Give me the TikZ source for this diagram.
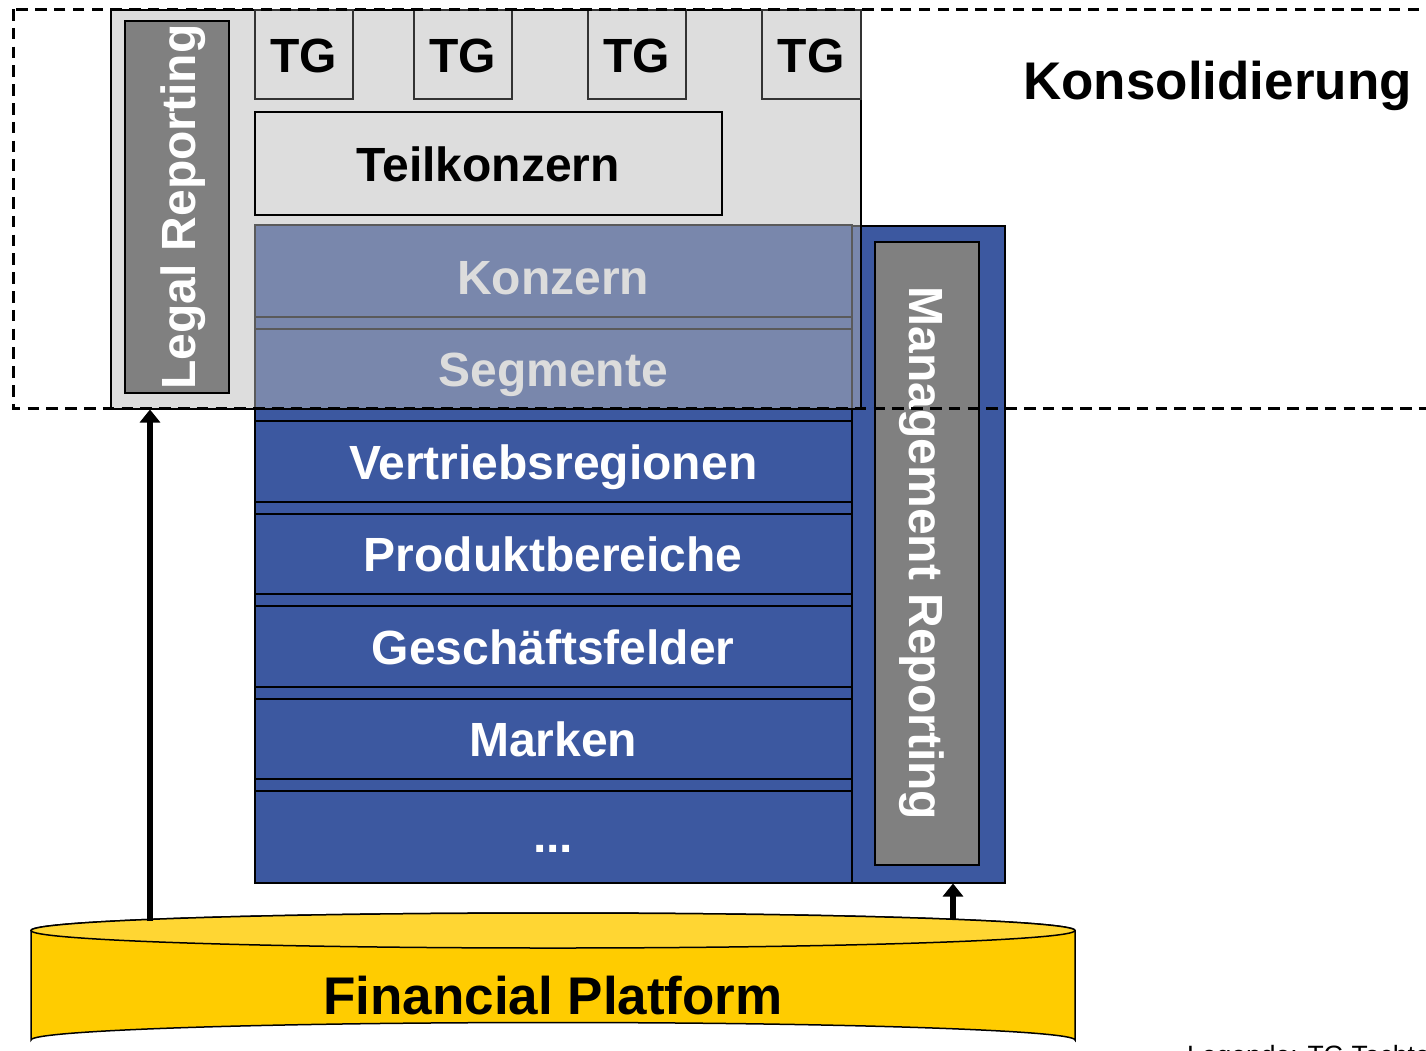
\documentclass[tikz,border=0pt]{standalone}
\usepackage{fontspec}
\setmainfont{Liberation Sans}
\usetikzlibrary{arrows.meta}

\definecolor{panelgray}{HTML}{B9B9B9}
\definecolor{tgline}{HTML}{333333}
\definecolor{rowblue}{HTML}{3C58A0}
\definecolor{bargray}{HTML}{808080}
\definecolor{gold}{HTML}{FFCC00}
\definecolor{goldtop}{HTML}{FFD633}

\newcommand\labelfont{\fontsize{48}{48}\selectfont\bfseries}
\newcommand\titlefont{\fontsize{53}{53}\selectfont\bfseries}
\newcommand\notefont{\fontsize{26.5}{26.5}\selectfont}

\tikzset{
  tgbox/.style={draw=tgline, line width=1.5pt, minimum width=98pt, minimum height=89pt,
    anchor=north west, inner sep=0pt, font=\labelfont, text height=36pt, text depth=0pt},
  layer/.style={draw=black, line width=1.5pt, fill=rowblue, text=white, minimum width=597pt,
    anchor=north west, inner sep=0pt, font=\labelfont, text height=36pt, text depth=0pt},
  bar/.style={draw=black, line width=1.5pt, fill=bargray, text=white, minimum height=104pt,
    inner sep=0pt, font=\labelfont, text height=36pt, text depth=0pt},
  flow/.style={line width=6pt, -{Triangle[width=20pt,length=13pt]}},
}

\begin{document}
\begin{tikzpicture}[x=1pt,y=-1pt]
\useasboundingbox (0,0) rectangle (1426,1050);
\clip (0,0) rectangle (1426,1050);

% management reporting frame behind the layer stack
\node[draw=black, line width=1.5pt, fill=rowblue, minimum width=153pt, minimum height=657pt,
  anchor=north west, inner sep=0pt] (mframe) at (851,225) {};

% layer stack
\node[draw=black, line width=1.5pt, fill=rowblue, minimum width=597pt, minimum height=658pt,
  anchor=north west, inner sep=0pt] (stack) at (254,224) {};
\node[layer, minimum height=92pt] (konzern) at (254,224) {\raisebox{-6pt}{Konzern}};
\node[layer, minimum height=80pt] (segmente) at (254,328) {Segmente};
\node[layer, minimum height=81pt] (vertrieb) at (254,420) {Vertriebsregionen};
\node[layer, minimum height=80pt] (produkt) at (254,513) {Produktbereiche};
\node[layer, minimum height=81pt] (gf) at (254,605) {Geschäftsfelder};
\node[layer, minimum height=80pt] (marken) at (254,698) {Marken};
\node[layer, minimum height=92pt] (more) at (254,790) {\raisebox{2pt}{...}};

% legal reporting panel, translucent over the upper layers
\node[draw=black, line width=1.5pt, fill=panelgray, fill opacity=0.49, minimum width=750pt,
  minimum height=399pt, anchor=north west, inner sep=0pt] (panel) at (110,9) {};

\node[tgbox] (tg1) at (254,9) {TG};
\node[tgbox] (tg2) at (413,9) {TG};
\node[tgbox] (tg3) at (587,9) {TG};
\node[tgbox, minimum width=99pt] (tg4) at (761,9) {TG};
\node[draw=black, line width=1.5pt, minimum width=467pt, minimum height=103pt, anchor=north west,
  inner sep=0pt, font=\labelfont, text height=36pt, text depth=0pt] (teil) at (254,111) {Teilkonzern};

\node[bar, rotate=90, minimum width=372pt] (legal) at (177,207) {Legal Reporting};
\node[bar, rotate=-90, minimum width=623pt] (mgmt) at (927,553.5) {Management Reporting};

% consolidation scope
\draw[line width=3pt, dash pattern=on 11.5pt off 7.3pt] (13,9) rectangle (1445,408);
\node[font=\titlefont, anchor=base west, inner sep=0pt] (kons) at (1023,99) {Konsolidierung};

% financial platform cylinder
\coordinate (fpTL) at (31,930.5);
\coordinate (fpTR) at (1075,930.5);
\coordinate (fpBL) at (31,1040);
\draw[line width=1.5pt, fill=gold] (fpTL) -- (fpBL)
  arc[start angle=180, end angle=0, x radius=522pt, y radius=17.5pt]
  -- (fpTR) arc[start angle=0, end angle=180, x radius=522pt, y radius=17.5pt] -- cycle;
\draw[line width=1.5pt, fill=goldtop] (553,930.5) ellipse[x radius=522pt, y radius=17.5pt];
\node[font=\titlefont, inner sep=0pt, text height=38pt, text depth=0pt] (fp) at (553,995) {Financial Platform};

% feeds from the platform
\coordinate (srcL) at (150,921);
\coordinate (srcR) at (953,920);
\draw[flow] (srcL) -- (srcL |- panel.south);
\draw[flow] (srcR) -- (srcR |- mframe.south);

% legend line at the lower edge
\node[font=\notefont, anchor=base west, inner sep=0pt] (legend) at (1187,1064) {Legende: TG Tochtergesellschaft};
\end{tikzpicture}
\end{document}
